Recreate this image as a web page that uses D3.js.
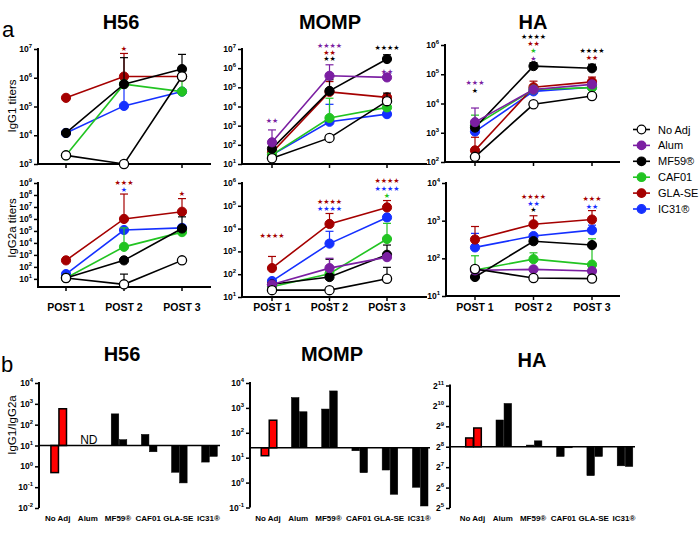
<!DOCTYPE html>
<html><head><meta charset="utf-8">
<script src="https://cdn.jsdelivr.net/npm/d3@7"></script>
<style>body{margin:0;background:#fff}svg{font-family:Arial,"Liberation Sans",sans-serif}</style>
</head><body><svg id="c" width="700" height="546"></svg>
<script>
// ---------- DATA ----------
const timepoints = ["POST 1", "POST 2", "POST 3"];
const groups = ["No Adj", "Alum", "MF59®", "CAF01", "GLA-SE", "IC31®"];
const groupColors = ["#ffffff", "#7b1fa2", "#000000", "#22c422", "#a50000", "#1530ff"];
const ratioSeries = ["POST 2", "POST 3"];

// IgG1 titers (rows follow `groups`, null = not tested)
const h56IgG1 = [[2000, 1000, 1.1e6], null, [1.2e4, 6e5, 2e6], [2000, 6e5, 3.3e5], [2e5, 1.1e6, 1.1e6], [1.2e4, 1.05e5, 3.3e5]];
const h56IgG1Err = [[null, null, null], null, [null, 5e6, 6.5e6], [null, null, 1e6], [null, 7e6, null], [null, 6e5, null]];
const momIgG1 = [[20, 230, 1.9e4], [135, 4e5, 3.3e5], [63, 6.5e4, 3e6], [30, 2500, 9e3], [40, 5.8e4, 3e4], [30, 1600, 4e3]];
const momIgG1Err = [[null, null, 5e4], [600, 1.5e6, 5e5], [null, 2.5e5, 5e6], [null, 2.7e4, null], [null, 2e5, 4e4], [null, 1.3e4, null]];
const haIgG1 = [[150, 9.4e3, 1.8e4], [2300, 3e4, 4.5e4], [1500, 1.9e5, 1.6e5], [1800, 3e4, 3.5e4], [250, 3.6e4, 5.5e4], [1100, 2.6e4, 3.6e4]];
const haIgG1Err = [[null, null, null], [7e3, null, null], [null, 2.5e5, 2.2e5], [4e3, null, null], [700, 5.8e4, 8e4], [null, null, null]];

// IgG2a titers
const h56IgG2a = [[12, 3.5, 350], null, [12, 350, 1.6e5], [12, 4.7e3, 8e4], [350, 1e6, 4e6], [25, 1.2e5, 1.8e5]];
const h56IgG2aErr = [[null, 25, null], null, [null, null, 1.5e6], [null, 1.8e5, 2e5], [null, 1.2e8, 5e7], [null, 1.8e5, 3e5]];
const momIgG2a = [[20, 20, 63], [35, 185, 560], [36, 75, 710], [28, 105, 3500], [185, 1.6e4, 8.5e4], [50, 2200, 3.1e4]];
const momIgG2aErr = [[null, null, 200], [null, 500, null], [null, 450, 1900], [null, null, 1.7e4], [600, 4.6e4, 1.7e5], [null, 7600, null]];
const haIgG2a = [[52, 30, 29], [48, 51, 46], [32, 285, 225], [49, 95, 68], [316, 800, 1070], [195, 390, 560]];
const haIgG2aErr = [[null, null, null], [null, null, null], [null, null, null], [117, 140, 330], [700, 1350, 1850], [460, null, 760]];

// significance marks: [timepoint index, group, text, value at which the mark sits]
const h56IgG1Stars = [[1, "GLA-SE", "*", 1.05e7]];
const momIgG1Stars = [[0, "Alum", "**", 1.8e3], [1, "Alum", "****", 1.6e7], [1, "GLA-SE", "**", 6.8e6], [1, "MF59®", "**", 3.1e6], [2, "MF59®", "****", 1.2e7], [2, "Alum", "**", 7.2e5]];
const haIgG1Stars = [[0, "Alum", "***", 5.1e4], [0, "MF59®", "*", 2.8e4], [1, "MF59®", "****", 1.95e6], [1, "GLA-SE", "**", 1.1e6], [1, "CAF01", "*", 6.3e5], [1, "Alum", "*", 3.6e5], [2, "MF59®", "****", 6.6e5], [2, "GLA-SE", "**", 3.7e5]];
const h56IgG2aStars = [[1, "GLA-SE", "***", 1.1e9], [1, "IC31®", "*", 3e8], [2, "GLA-SE", "*", 1.3e8]];
const momIgG2aStars = [[0, "GLA-SE", "****", 4.9e3], [1, "GLA-SE", "****", 1.55e5], [1, "IC31®", "****", 7.8e4], [2, "GLA-SE", "****", 1.26e6], [2, "IC31®", "****", 6e5], [2, "CAF01", "*", 3e5]];
const haIgG2aStars = [[1, "GLA-SE", "****", 4.4e3], [1, "IC31®", "**", 2.9e3], [1, "MF59®", "*", 1.95e3], [2, "GLA-SE", "***", 3.9e3], [2, "IC31®", "**", 2.4e3]];

// IgG1/IgG2a ratios (two bars per adjuvant)
const h56Ratio = [[0.5, 580], null, [330, 19], [34, 5], [0.52, 0.16], [1.6, 3]];
const momRatio = [[12, 320], [2600, 700], [900, 4800], [19, 2.5], [3.2, 0.34], [0.65, 0.115]];
const haRatio = [[345, 484], [635, 1113], [271, 313], [184, 247], [96, 184], [134, 131]];

// ---------- DRAWING ----------
const svg = d3.select("#c");
const strokeOf = i => i === 0 ? "#000" : groupColors[i];

function powLabel(g, x, y, base, exp, size, anchor) {
  const t = g.append("text").attr("x", x).attr("y", y).attr("text-anchor", anchor || "end")
    .attr("font-size", size).attr("font-weight", "bold").attr("fill", "#000");
  t.append("tspan").text(base);
  t.append("tspan").attr("dy", -size * 0.45).attr("font-size", size * 0.7).text(exp);
}

function linePanel(c) {
  const g = svg.append("g");
  const x = d3.scalePoint().domain(timepoints).range([c.p1, c.p3]);
  const y = d3.scaleLog().domain(c.domain).range([c.yBot, c.yTop]);
  const ax = d3.axisLeft(y).tickValues(c.ticks).tickSize(4).tickFormat("");
  const ga = g.append("g").attr("transform", `translate(${c.x0},0)`).call(ax);
  ga.select(".domain").attr("stroke-width", 2).attr("d", `M0,${c.yBot}V${y(c.ticks[c.ticks.length - 1]) - 1}`);
  ga.selectAll(".tick line").attr("stroke-width", 1.5);
  c.ticks.forEach(t => powLabel(g, c.x0 - 6, y(t) + 3, "10", Math.round(Math.log10(t)), 8.5));
  g.append("line").attr("x1", c.x0 - 1).attr("x2", c.xEnd).attr("y1", c.yBot).attr("y2", c.yBot)
    .attr("stroke", "#000").attr("stroke-width", 2);
  timepoints.forEach(tp => {
    g.append("line").attr("x1", x(tp)).attr("x2", x(tp)).attr("y1", c.yBot).attr("y2", c.yBot + 4)
      .attr("stroke", "#000").attr("stroke-width", 1.5);
    if (c.xLabels) g.append("text").attr("x", x(tp)).attr("y", c.labelY).attr("text-anchor", "middle")
      .attr("font-size", 10.5).attr("font-weight", "bold").text(tp);
  });
  for (let i = groups.length - 1; i >= 0; i--) {
    const vals = c.data[i];
    if (!vals) continue;
    const col = strokeOf(i);
    const errs = c.err[i] || [];
    errs.forEach((e, k) => {
      if (e == null) return;
      const xx = x(timepoints[k]);
      g.append("line").attr("x1", xx).attr("x2", xx).attr("y1", y(vals[k])).attr("y2", y(e))
        .attr("stroke", col).attr("stroke-width", 1.2);
      g.append("line").attr("x1", xx - 4).attr("x2", xx + 4).attr("y1", y(e)).attr("y2", y(e))
        .attr("stroke", col).attr("stroke-width", 1.2);
    });
    const line = d3.line().x((d, k) => x(timepoints[k])).y(d => y(d));
    g.append("path").attr("d", line(vals)).attr("fill", "none").attr("stroke", col).attr("stroke-width", 1.6);
    vals.forEach((v, k) => {
      g.append("circle").attr("cx", x(timepoints[k])).attr("cy", y(v)).attr("r", 4.6)
        .attr("fill", groupColors[i]).attr("stroke", col).attr("stroke-width", i === 0 ? 1.3 : 1);
    });
  }
  c.stars.forEach(([k, grp, txt, v]) => {
    const i = groups.indexOf(grp);
    g.append("text").attr("x", x(timepoints[k])).attr("y", y(v) + 2.6).attr("text-anchor", "middle")
      .attr("font-family", "DejaVu Sans").attr("font-size", 7).attr("fill", strokeOf(i))
      .text(txt.replace(/\*/g, "\u2605"));
  });
}

function barPanel(c) {
  const g = svg.append("g");
  const cx = d3.scalePoint().domain(groups).range([c.c0, c.c5]);
  const inner = d3.scaleBand().domain(ratioSeries).range([-7.8, 7.8]).paddingInner(0.06);
  const y = d3.scaleLog().base(c.base).domain(c.domain).range([c.yBot, c.yTop]);
  const ax = d3.axisLeft(y).tickValues(c.ticks).tickSize(4).tickFormat("");
  const ga = g.append("g").attr("transform", `translate(${c.x0},0)`).call(ax);
  ga.select(".domain").attr("stroke-width", 2).attr("d", `M0,${c.yBot}V${c.yTop - 1}`);
  ga.selectAll(".tick line").attr("stroke-width", 1.5);
  c.ticks.forEach(t => powLabel(g, c.x0 - 6, y(t) + 3, String(c.base), Math.round(Math.log(t) / Math.log(c.base)), 8.5));
  groups.forEach((grp, i) => {
    const vals = c.data[i];
    if (vals) {
      vals.forEach((v, k) => {
        const y0 = y(c.baseValue), y1 = y(v);
        g.append("rect").attr("x", cx(grp) + inner(ratioSeries[k])).attr("width", inner.bandwidth())
          .attr("y", Math.min(y0, y1)).attr("height", Math.abs(y1 - y0))
          .attr("fill", i === 0 ? "#ff0000" : "#000").attr("stroke", "#000").attr("stroke-width", i === 0 ? 1.5 : 0.5);
      });
    } else {
      g.append("text").attr("x", cx(grp)).attr("y", y(c.baseValue) - 2).attr("text-anchor", "middle")
        .attr("font-size", 12).text("ND");
    }
    g.append("text").attr("x", cx(grp) - 1).attr("y", 521).attr("text-anchor", "middle")
      .attr("font-size", 8).attr("font-weight", "bold").text(grp);
  });
  g.append("line").attr("x1", c.x0).attr("x2", c.xEnd).attr("y1", y(c.baseValue)).attr("y2", y(c.baseValue))
    .attr("stroke", "#000").attr("stroke-width", 1.5);
}

// Row 1: IgG1
linePanel({x0: 38, xEnd: 211, p1: 66, p3: 182, yTop: 49, yBot: 164, domain: [1e3, 1e7], ticks: [1e3, 1e4, 1e5, 1e6, 1e7], data: h56IgG1, err: h56IgG1Err, stars: h56IgG1Stars});
linePanel({x0: 242, xEnd: 427, p1: 272, p3: 387, yTop: 49, yBot: 164, domain: [1e1, 1e7], ticks: [1e1, 1e2, 1e3, 1e4, 1e5, 1e6, 1e7], data: momIgG1, err: momIgG1Err, stars: momIgG1Stars});
linePanel({x0: 445, xEnd: 620, p1: 475, p3: 592, yTop: 45, yBot: 162, domain: [1e2, 1e6], ticks: [1e2, 1e3, 1e4, 1e5, 1e6], data: haIgG1, err: haIgG1Err, stars: haIgG1Stars});
// Row 2: IgG2a
linePanel({x0: 38, xEnd: 211, p1: 66, p3: 182, yTop: 183, yBot: 287, domain: [2.1, 1e9], ticks: [1e1, 1e2, 1e3, 1e4, 1e5, 1e6, 1e7, 1e8, 1e9], data: h56IgG2a, err: h56IgG2aErr, stars: h56IgG2aStars, xLabels: true, labelY: 310.5});
linePanel({x0: 242, xEnd: 427, p1: 272, p3: 387, yTop: 183, yBot: 297, domain: [1e1, 1e6], ticks: [1e1, 1e2, 1e3, 1e4, 1e5, 1e6], data: momIgG2a, err: momIgG2aErr, stars: momIgG2aStars, xLabels: true, labelY: 310.5});
linePanel({x0: 446, xEnd: 620, p1: 475, p3: 592, yTop: 183, yBot: 296, domain: [1e1, 1e4], ticks: [1e1, 1e2, 1e3, 1e4], data: haIgG2a, err: haIgG2aErr, stars: haIgG2aStars, xLabels: true, labelY: 310.5});

// Row 3: ratios
barPanel({x0: 39, xEnd: 220, c0: 58.7, c5: 209.5, yTop: 383, yBot: 508, base: 10, domain: [1e-2, 1e4], ticks: [1e-2, 1e-1, 1, 1e1, 1e2, 1e3, 1e4], baseValue: 10, data: h56Ratio});
barPanel({x0: 250, xEnd: 430, c0: 269, c5: 420.2, yTop: 383, yBot: 507.5, base: 10, domain: [1e-1, 1e4], ticks: [1e-1, 1, 1e1, 1e2, 1e3, 1e4], baseValue: 25, data: momRatio});
barPanel({x0: 450, xEnd: 635, c0: 473.5, c5: 625, yTop: 385.5, yBot: 508, base: 2, domain: [32, 2048], ticks: [32, 64, 128, 256, 512, 1024, 2048], baseValue: 256, data: haRatio});

// Titles and labels
const T = (x, y, txt, size, weight, anchor) => svg.append("text").attr("x", x).attr("y", y)
  .attr("font-size", size).attr("font-weight", weight || "normal").attr("text-anchor", anchor || "middle").text(txt);
T(121, 29, "H56", 20, "bold"); T(330, 29, "MOMP", 20, "bold"); T(533, 29, "HA", 20, "bold");
T(122, 361, "H56", 20, "bold"); T(332, 361, "MOMP", 20, "bold"); T(532, 367, "HA", 20, "bold");
T(2, 37, "a", 22, "normal", "start"); T(1, 372, "b", 22, "normal", "start");
const R = (x, y, txt) => svg.append("text").attr("transform", `translate(${x},${y}) rotate(-90)`)
  .attr("text-anchor", "middle").attr("font-size", 11.5).text(txt);
R(16, 106, "IgG1 titers"); R(16, 228, "IgG2a titers"); R(16, 425, "IgG1/IgG2a");

// Legend
const leg = svg.append("g");
groups.forEach((grp, i) => {
  const yy = 129.5 + i * 15.9;
  leg.append("line").attr("x1", 633).attr("x2", 650).attr("y1", yy).attr("y2", yy).attr("stroke", strokeOf(i)).attr("stroke-width", 1.6);
  leg.append("circle").attr("cx", 641.5).attr("cy", yy).attr("r", 4.3).attr("fill", groupColors[i]).attr("stroke", strokeOf(i)).attr("stroke-width", 1.2);
  leg.append("text").attr("x", 658).attr("y", yy + 4).attr("font-size", 11).text(grp);
});
</script></body></html>
